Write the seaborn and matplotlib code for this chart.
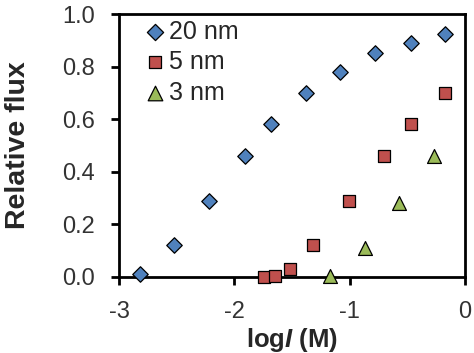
import pandas as pd
import seaborn as sns
import matplotlib.pyplot as plt

# values
x_20nm = [-2.82, -2.52, -2.22, -1.91, -1.68, -1.38, -1.08, -0.78, -0.47, -0.17]
y_20nm = [0.01, 0.12, 0.29, 0.46, 0.58, 0.70, 0.78, 0.85, 0.89, 0.925]
x_5nm = [-1.74, -1.65, -1.52, -1.32, -1.01, -0.70, -0.47, -0.17]
y_5nm = [0.0, 0.005, 0.03, 0.12, 0.29, 0.46, 0.58, 0.70]
x_3nm = [-1.17, -0.87, -0.57, -0.27]
y_3nm = [0.005, 0.11, 0.28, 0.46]

labels = ['20 nm', '5 nm', '3 nm']
x_ticks = [-3, -2, -1, 0]
y_ticks = [0.0, 0.2, 0.4, 0.6, 0.8, 1.0]


def make_plot():
    sns.set_style('ticks')
    plt.rcParams['font.family'] = ['Liberation Sans', 'DejaVu Sans']
    plt.rcParams['mathtext.fontset'] = 'custom'
    plt.rcParams['mathtext.rm'] = 'Liberation Sans'
    plt.rcParams['mathtext.bf'] = 'Liberation Sans:bold'
    plt.rcParams['mathtext.bfit'] = 'Liberation Sans:italic:bold'

    fig = plt.figure(figsize=(4.74, 3.53), dpi=100)
    ax = fig.add_axes([0.251, 0.2153, 0.730, 0.745])

    series = [
        (x_20nm, y_20nm, 'D', '#4F81BD', 62),
        (x_5nm, y_5nm, 's', '#C0504D', 70),
        (x_3nm, y_3nm, '^', '#9BBB59', 100),
    ]
    for (xs, ys, mk, col, sz), lab in zip(series, labels):
        df = pd.DataFrame({'x': xs, 'y': ys})
        sns.scatterplot(data=df, x='x', y='y', marker=mk, color=col, s=sz,
                        edgecolor='black', linewidth=0.9, label=lab,
                        clip_on=False, zorder=5, ax=ax)

    ax.set_xlim(-3, 0)
    ax.set_ylim(0, 1)
    ax.set_xticks(x_ticks)
    ax.set_xticklabels([str(t) for t in x_ticks])
    ax.set_yticks(y_ticks)
    ax.set_yticklabels([f'{t:.1f}' for t in y_ticks])

    for sp in ax.spines.values():
        sp.set_linewidth(2.0)
        sp.set_color('black')
    ax.tick_params(direction='out', length=6, width=2.0, labelsize=17,
                   labelcolor='#333333', color='black', pad=11.5)

    ax.set_xlabel(r'log$\mathbfit{I}$ (M)', fontsize=18.5, fontweight='bold',
                  color='#262626', labelpad=2)
    ax.set_ylabel('Relative flux', fontsize=20.5, fontweight='bold',
                  color='#262626', labelpad=22)

    leg = ax.legend(loc='upper left', bbox_to_anchor=(0.055, 1.0),
                    frameon=False, fontsize=18,
                    handletextpad=0.1, handlelength=0.9, labelspacing=0.26,
                    borderaxespad=0.12, borderpad=0.1, markerscale=1.05)
    for t in leg.get_texts():
        t.set_color('#262626')

    fig.savefig('out.png', dpi=100)


if __name__ == '__main__':
    make_plot()
